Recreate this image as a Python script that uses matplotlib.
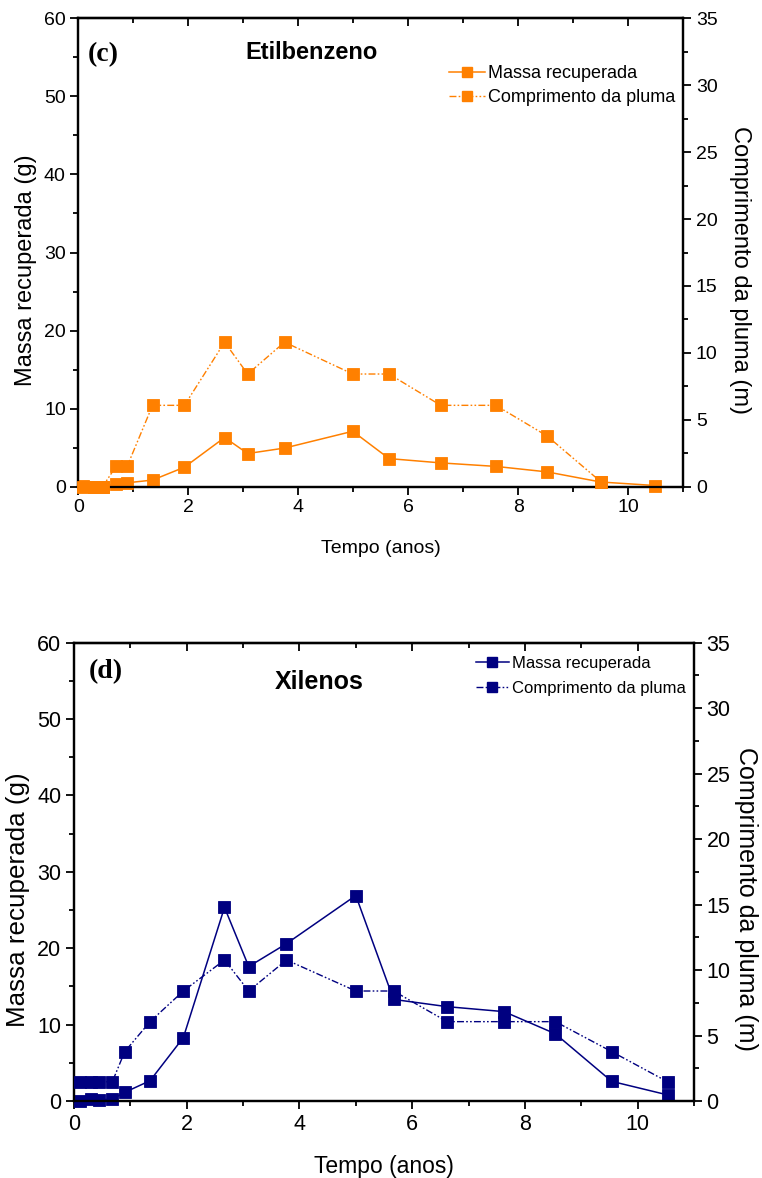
import matplotlib
matplotlib.use("Agg")
import matplotlib.pyplot as plt
from matplotlib.ticker import MultipleLocator
from matplotlib.lines import Line2D

plt.rcParams['font.family'] = ['Liberation Sans', 'DejaVu Sans']

# ---- data: (c) Etilbenzeno ----
t_c = [0.09, 0.29, 0.44, 0.69, 0.89, 1.35, 1.93, 2.66, 3.08, 3.75, 4.99, 5.65, 6.59, 7.59, 8.52, 9.50, 10.49]
mass_c = [0.1, 0.0, 0.0, 0.4, 0.5, 0.85, 2.5, 6.3, 4.25, 4.95, 7.1, 3.6, 3.05, 2.6, 1.9, 0.6, 0.15]
t_c_plume = [0.09, 0.29, 0.44, 0.69, 0.89, 1.35, 1.93, 2.66, 3.08, 3.75, 4.99, 5.65, 6.59, 7.59, 8.52, 9.50]
plume_c = [0, 0, 0, 1.54, 1.54, 6.08, 6.08, 10.8, 8.42, 10.8, 8.42, 8.42, 6.08, 6.08, 3.8, 0.37]

# ---- data: (d) Xilenos ----
t_d = [0.107, 0.30, 0.45, 0.68, 0.90, 1.35, 1.94, 2.67, 3.10, 3.77, 5.0, 5.67, 6.62, 7.63, 8.54, 9.54, 10.53]
mass_d = [0.0, 0.26, 0.13, 0.26, 1.13, 2.66, 8.3, 25.35, 17.6, 20.6, 26.9, 13.3, 12.35, 11.7, 8.8, 2.57, 0.8]
plume_d = [1.47, 1.47, 1.47, 1.47, 3.77, 6.06, 8.4, 10.77, 8.4, 10.77, 8.4, 8.4, 6.06, 6.06, 6.06, 3.77, 1.47]

labels = ["Massa recuperada", "Comprimento da pluma"]
xlabel = "Tempo (anos)"
ylabel_l = "Massa recuperada (g)"
ylabel_r = "Comprimento da pluma (m)"

W, H = 762, 1178
fig = plt.figure(figsize=(W / 100, H / 100), dpi=100)

DASHDOT = (0, (5, 1.6, 1.2, 1.6, 1.2, 1.6))


def make_panel(rect, t_mass, mass, t_plume, plume, color, letter, title,
               letter_pos, title_pos, tick_fs, lab_fs, lab_pad, ylab_fs, rlab_fs, ylab_y,
               rlab_pad, leg_fs, leg_pos, leg_sp, letter_fs, title_fs):
    ax = fig.add_axes(rect)
    ax2 = ax.twinx()
    ax.set_xlim(0, 11)
    ax.set_ylim(0, 60)
    ax2.set_ylim(0, 35)
    ax.xaxis.set_major_locator(MultipleLocator(2))
    ax.xaxis.set_minor_locator(MultipleLocator(1))
    ax.yaxis.set_major_locator(MultipleLocator(10))
    ax.yaxis.set_minor_locator(MultipleLocator(5))
    ax2.yaxis.set_major_locator(MultipleLocator(5))
    ax2.yaxis.set_minor_locator(MultipleLocator(2.5))
    for a in (ax, ax2):
        for s in a.spines.values():
            s.set_linewidth(1.6)
    ax.tick_params(axis='both', which='major', direction='out', length=6, width=1.3,
                   labelsize=tick_fs, pad=3)
    ax.tick_params(axis='both', which='minor', direction='out', length=3.5, width=1.3)
    ax.tick_params(axis='y', which='both', right=False)
    ax2.tick_params(axis='y', which='major', direction='out', length=6, width=1.3,
                    labelsize=tick_fs, pad=3)
    ax2.tick_params(axis='y', which='minor', direction='out', length=3.5, width=1.3)
    # inward ticks on top spine
    sec = ax.secondary_xaxis('top')
    sec.xaxis.set_major_locator(MultipleLocator(2))
    sec.xaxis.set_minor_locator(MultipleLocator(1))
    sec.tick_params(which='major', direction='in', length=6, width=1.3, labeltop=False)
    sec.tick_params(which='minor', direction='in', length=3.5, width=1.3)
    sec.spines['top'].set_linewidth(1.6)

    ax.plot(t_mass, mass, '-', color=color, lw=1.1, marker='s', ms=8,
            mec=color, mew=0.6, zorder=3, clip_on=False)
    ax2.plot(t_plume, plume, linestyle=DASHDOT, color=color, lw=1.0, marker='s', ms=8,
             mec=color, mew=0.6, zorder=3, clip_on=False)

    ax.set_xlabel(xlabel, fontsize=lab_fs, labelpad=lab_pad)
    ax.set_ylabel(ylabel_l, fontsize=ylab_fs, labelpad=5)
    ax.yaxis.label.set_y(ylab_y)
    ax2.set_ylabel(ylabel_r, fontsize=rlab_fs, rotation=270, labelpad=rlab_pad)
    ax2.yaxis.label.set_y(ylab_y)

    ax.text(letter_pos[0], letter_pos[1], letter, transform=ax.transAxes, fontsize=letter_fs,
            fontweight='bold', family=['Liberation Serif', 'DejaVu Serif'],
            va='center', ha='left')
    ax.text(title_pos[0], title_pos[1], title, transform=ax.transAxes, fontsize=title_fs,
            fontweight='bold', va='center', ha='center')

    h1 = Line2D([], [], color=color, lw=1.1, marker='s', ms=7, mec=color)
    h2 = Line2D([], [], color=color, lw=1.0, linestyle=DASHDOT, marker='s', ms=7, mec=color)
    ax.legend([h1, h2], labels, loc='upper left', bbox_to_anchor=leg_pos, frameon=False,
              fontsize=leg_fs, handlelength=2.0, handletextpad=0.15, labelspacing=leg_sp,
              borderpad=0.0, borderaxespad=0.0)
    ax2.set_zorder(ax.get_zorder() + 1)
    ax2.patch.set_visible(False)
    return ax, ax2


# top panel (c)
make_panel([78.3 / W, 1 - 486.7 / H, 605 / W, 468.4 / H],
           t_c, mass_c, t_c_plume, plume_c, '#FF8000', '(c)', 'Etilbenzeno',
           (0.016, 0.922), (0.386, 0.928), 14, 14, 17, 17, 17, 0.463, 24,
           13, (0.613, 0.900), 0.4, 20, 17)

# bottom panel (d)
make_panel([74 / W, 1 - 1101 / H, 620 / W, 458.3 / H],
           t_d, mass_d, t_d, plume_d, '#000080', '(d)', 'Xilenos',
           (0.023, 0.936), (0.395, 0.914), 15.5, 16.5, 15, 18.7, 18, 0.44, 20,
           12, (0.648, 0.972), 0.6, 20, 18)

fig.savefig("out.png", dpi=100)
